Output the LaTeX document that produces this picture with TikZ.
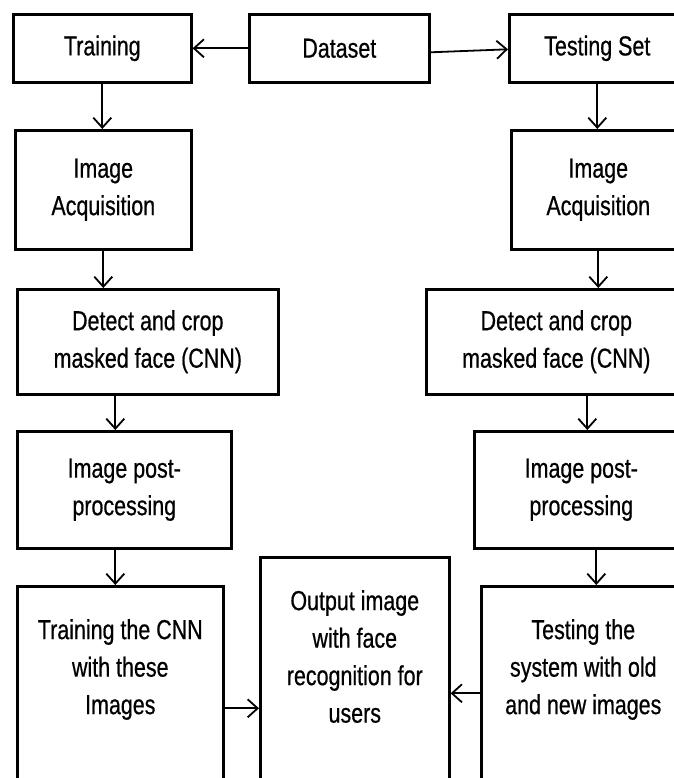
\documentclass[tikz,border=0pt]{standalone}
\usepackage{fontspec}
\setmainfont{Liberation Sans}[FakeStretch=0.78, FakeBold=0.6]
\usetikzlibrary{arrows.meta, positioning}

\begin{document}
\begin{tikzpicture}[
    x=1pt, y=-1pt,
    block/.style={rectangle, draw=black, line width=2.6pt, align=center, anchor=north west, inner sep=0pt, font=\fontsize{27.5}{37.5}\selectfont},
    inlabel/.style={anchor=north, align=center, inner sep=0pt, yshift=-34pt, font=\fontsize{27.5}{37.5}\selectfont},
    flow/.style={draw, line width=1.8pt, -{Straight Barb[length=10pt, width=18pt, line width=1.8pt]}}
]
\useasboundingbox (0,0) rectangle (673,778);

% ─── Top Row ─────────────────────────────────────────────────────────
\node[block, minimum width=178, minimum height=68] (trainset) at (12, 13) {Training};
\node[block, minimum width=180, minimum height=68] (dataset) at (248, 13) {Dataset};
\node[block, minimum width=176, minimum height=68] (testset) at (508, 13) {Testing Set};

\draw[flow] (dataset.west) -- (trainset.east);
\draw[flow] ([yshift=-4pt]dataset.east) -- ([yshift=-1pt]testset.west);

% ─── Training Column (left) ──────────────────────────────────────────
\node[block, minimum width=176, minimum height=119] (acq1) at (14, 129) {Image\\Acquisition};
\node[block, minimum width=261, minimum height=105] (detect1) at (16, 288) {Detect and crop\\masked face (CNN)};
\node[block, minimum width=214, minimum height=117] (post1) at (16, 430) {Image post-\\processing};
\node[block, minimum width=206, minimum height=220, label={[inlabel]north:{Training the CNN\\with these\\Images}}] (cnn1) at (16, 585) {};

% ─── Testing Column (right, runs off the page) ───────────────────────
\node[block, minimum width=174, minimum height=119] (acq2) at (510, 129) {Image\\Acquisition};
\node[block, minimum width=260, minimum height=105] (detect2) at (425, 288) {Detect and crop\\masked face (CNN)};
\node[block, minimum width=214, minimum height=117] (post2) at (473, 430) {Image post-\\processing};
\node[block, minimum width=204, minimum height=220, label={[inlabel]north:{Testing the\\system with old\\and new images}}] (testsys) at (480, 585) {};

% ─── Output (bottom middle) ──────────────────────────────────────────
\node[block, minimum width=189, minimum height=250, label={[inlabel]north:{Output image\\with face\\recognition for\\users}}] (output) at (259, 556) {};

% ─── Column Arrows ───────────────────────────────────────────────────
\draw[flow] (trainset.south) -- (trainset.south |- acq1.north);
\draw[flow] (acq1.south) -- (acq1.south |- detect1.north);
\draw[flow] ([xshift=-9pt]post1.north |- detect1.south) -- ([xshift=-9pt]post1.north);
\draw[flow] ([xshift=-9pt]post1.south) -- ([xshift=-9pt]post1.south |- cnn1.north);

\draw[flow] (testset.south) -- (testset.south |- acq2.north);
\draw[flow] (acq2.south) -- (acq2.south |- detect2.north);
\draw[flow] ([xshift=6pt]post2.north |- detect2.south) -- ([xshift=6pt]post2.north);
\draw[flow] ([xshift=15pt]post2.south) -- ([xshift=15pt]post2.south |- testsys.north);

% Both sides feed the output
\draw[flow] ([yshift=-12pt]cnn1.east) -- ([yshift=-12pt]cnn1.east -| output.west);
\draw[flow] ([yshift=3pt]testsys.west) -- ([yshift=3pt]testsys.west -| output.east);

\end{tikzpicture}
\end{document}
